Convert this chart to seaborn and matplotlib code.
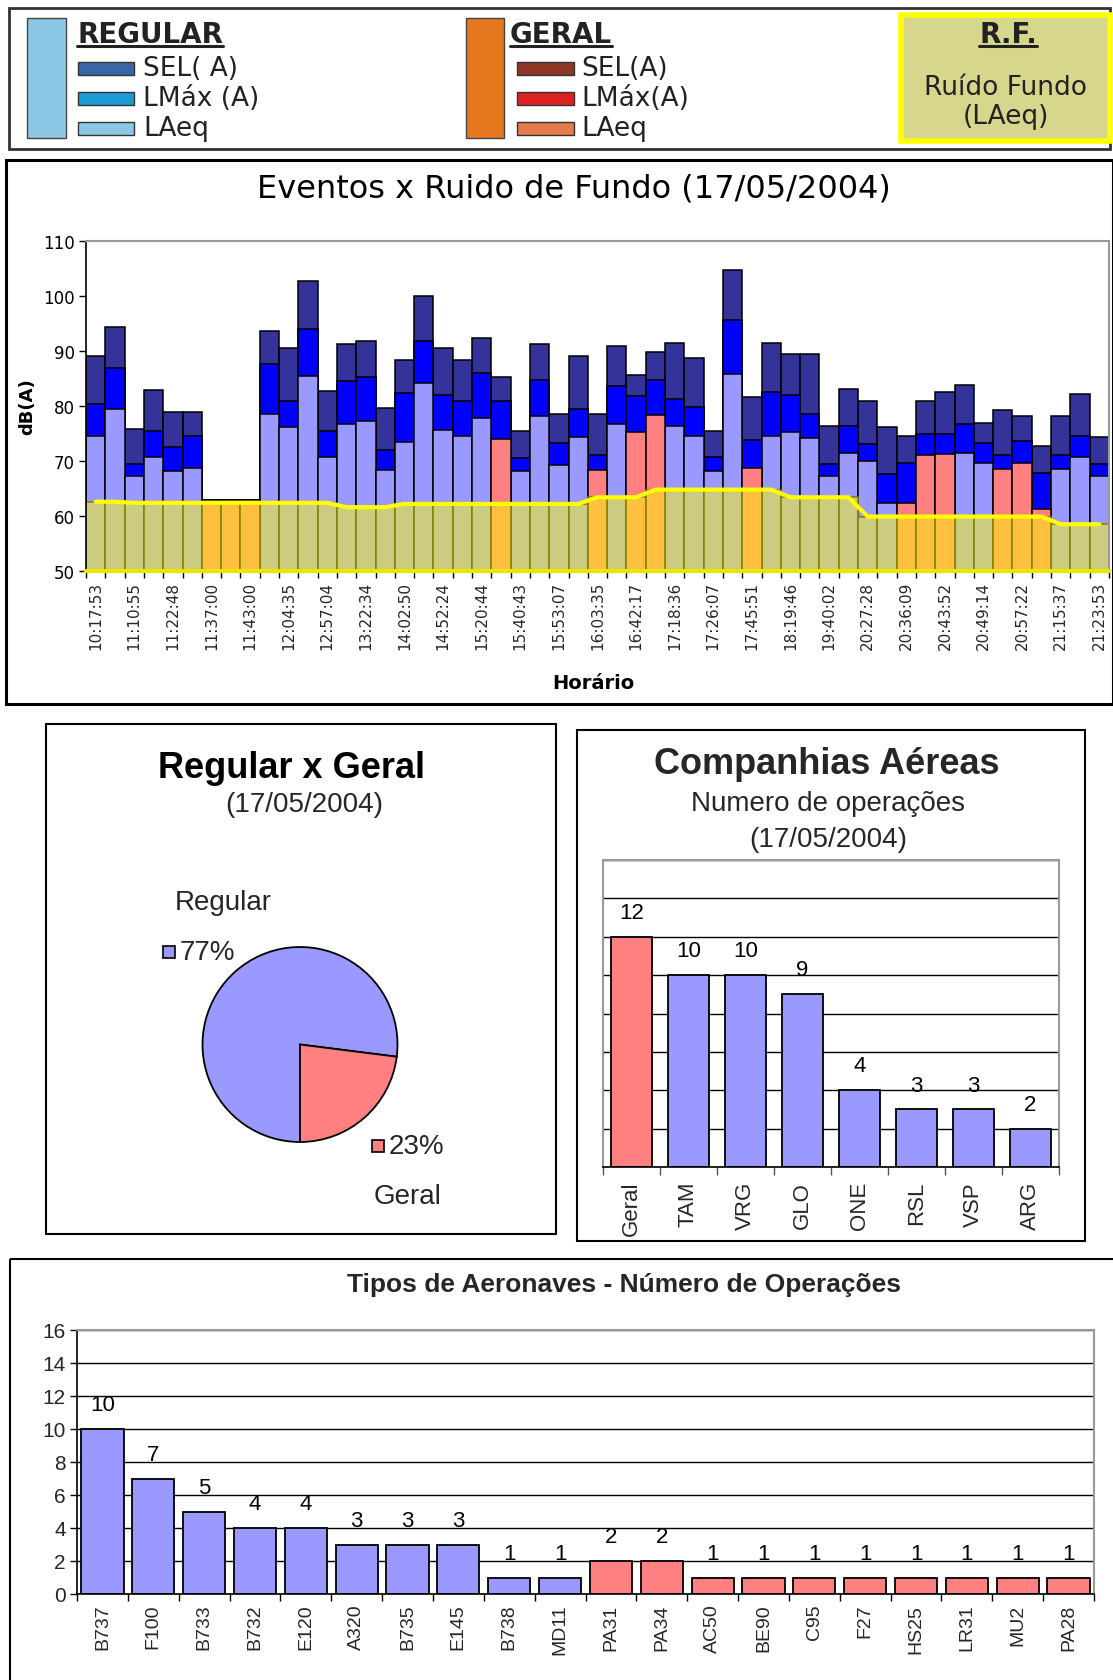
import numpy as np
import pandas as pd
import matplotlib
matplotlib.use("Agg")
import matplotlib.pyplot as plt
import seaborn as sns
from matplotlib.patches import Rectangle

sns.set_theme(style="white")
plt.rcParams["font.family"] = ["DejaVu Sans"]

# ---------------- data: main chart (events x background noise) ----------------
time_labels = ["10:17:53", "11:10:55", "11:22:48", "11:37:00", "11:43:00", "12:04:35",
               "12:57:04", "13:22:34", "14:02:50", "14:52:24", "15:20:44", "15:40:43",
               "15:53:07", "16:03:35", "16:42:17", "17:18:36", "17:26:07", "17:45:51",
               "18:19:46", "19:40:02", "20:27:28", "20:36:09", "20:43:52", "20:49:14",
               "20:57:22", "21:15:37", "21:23:53"]

sel_db = [89.1, 94.3, 75.8, 83.0, 78.9, 78.9, 62.9, 62.9, 62.9, 93.6,
          90.5, 102.8, 82.7, 91.2, 91.8, 79.6, 88.4, 100.0, 90.6, 88.4,
          92.3, 85.2, 75.5, 91.2, 78.5, 89.1, 78.5, 90.9, 85.7, 89.8,
          91.5, 88.8, 75.5, 104.8, 81.6, 91.5, 89.4, 89.4, 76.4, 83.1,
          81.0, 76.1, 74.6, 81.0, 82.5, 83.9, 77.0, 79.3, 78.2, 72.8,
          78.2, 82.2, 74.3]
lmax_db = [80.3, 86.9, 69.4, 75.4, 72.6, 74.6, 62.9, 62.9, 62.9, 87.7,
           81.0, 94.0, 75.5, 84.5, 85.2, 72.0, 82.4, 91.8, 82.0, 81.0,
           86.0, 81.0, 70.5, 84.8, 73.2, 79.5, 71.1, 83.7, 81.9, 84.8,
           81.2, 79.9, 70.7, 95.7, 73.9, 82.6, 82.0, 78.5, 69.4, 76.3,
           73.1, 67.6, 69.7, 74.9, 75.0, 76.7, 73.2, 71.1, 73.6, 67.9,
           71.1, 74.6, 69.4]
laeq_db = [74.6, 79.5, 67.2, 70.7, 68.2, 68.7, 62.9, 62.9, 62.9, 78.5,
           76.1, 85.5, 70.7, 76.7, 77.2, 68.3, 73.5, 84.1, 75.7, 74.6,
           77.8, 74.0, 68.2, 78.1, 69.3, 74.3, 68.3, 76.7, 75.3, 78.4,
           76.3, 74.6, 68.2, 85.8, 68.7, 74.6, 75.3, 74.2, 67.3, 71.4,
           70.0, 62.3, 62.3, 71.1, 71.3, 71.4, 69.7, 68.6, 69.6, 61.2,
           68.6, 70.7, 67.3]
rf_db = [62.6, 62.6, 62.4, 62.4, 62.4, 62.4, 62.4, 62.4, 62.4, 62.4,
         62.4, 62.4, 62.4, 61.6, 61.6, 61.6, 62.2, 62.2, 62.2, 62.2,
         62.2, 62.2, 62.2, 62.2, 62.2, 62.2, 63.4, 63.4, 63.4, 64.8,
         64.8, 64.8, 64.8, 64.8, 64.8, 64.8, 63.4, 63.4, 63.4, 63.4,
         59.9, 59.9, 59.9, 59.9, 59.9, 59.9, 59.9, 59.9, 59.9, 59.9,
         58.5, 58.5, 58.5]
geral_flag = [0, 0, 0, 0, 0, 0, 1, 1, 1, 0,
              0, 0, 0, 0, 0, 0, 0, 0, 0, 0,
              0, 1, 0, 0, 0, 0, 1, 0, 1, 1,
              0, 0, 0, 0, 1, 0, 0, 0, 0, 0,
              0, 0, 1, 1, 1, 0, 0, 1, 1, 1,
              0, 0, 0]

# ---------------- data: pie ----------------
pie_labels = ["Regular", "Geral"]
pie_values = [77, 23]

# ---------------- data: airlines ----------------
airlines = ["Geral", "TAM", "VRG", "GLO", "ONE", "RSL", "VSP", "ARG"]
airline_ops = [12, 10, 10, 9, 4, 3, 3, 2]

# ---------------- data: aircraft types ----------------
aircraft = ["B737", "F100", "B733", "B732", "E120", "A320", "B735", "E145", "B738", "MD11",
            "PA31", "PA34", "AC50", "BE90", "C95", "F27", "HS25", "LR31", "MU2", "PA28"]
aircraft_ops = [10, 7, 5, 4, 4, 3, 3, 3, 1, 1, 2, 2, 1, 1, 1, 1, 1, 1, 1, 1]
aircraft_geral = [0, 0, 0, 0, 0, 0, 0, 0, 0, 0, 1, 1, 1, 1, 1, 1, 1, 1, 1, 1]

# ---------------- colours ----------------
NAVY = "#333399"
BLUE = "#0000FF"
LAV = "#9999FF"
SALMON = "#FF8080"
KHAKI = "#CCCC80"
GOLD = "#FFC040"
OLIVE = "#808000"

W, H = 1113, 1681
fig = plt.figure(figsize=(W / 100, H / 100), dpi=100)
fig.patch.set_facecolor("white")


def fax(x0, y0, x1, y1, **kw):
    """axes from pixel box (y measured from top)"""
    return fig.add_axes([x0 / W, 1 - y1 / H, (x1 - x0) / W, (y1 - y0) / H], **kw)


# ================= main chart =================
df = pd.DataFrame({
    "pos": np.arange(len(sel_db)),
    "SEL": sel_db, "LMax": lmax_db, "LAeq": laeq_db, "RF": rf_db,
    "tipo": ["Geral" if g else "Regular" for g in geral_flag],
})
ax = fax(86, 242, 1109, 572)
common = dict(data=df, x="pos", native_scale=True, width=1.0, saturation=1,
              linewidth=1.1, ax=ax, err_kws={"linewidth": 0})
sns.barplot(y="SEL", color=NAVY, edgecolor="black", **common)
sns.barplot(y="LMax", color=BLUE, edgecolor="black", **common)
sns.barplot(y="LAeq", hue="tipo", palette={"Regular": LAV, "Geral": SALMON},
            dodge=False, legend=False, edgecolor="black", **common)
sns.barplot(y="RF", hue="tipo", palette={"Regular": KHAKI, "Geral": GOLD},
            dodge=False, legend=False, edgecolor=OLIVE, **common)
sns.lineplot(data=df, x="pos", y="RF", color="#FFFF00", linewidth=3, ax=ax, sort=False)

n = len(sel_db)
ax.set_xlim(-0.5, n - 0.5)
ax.set_ylim(50, 110)
ax.set_yticks(np.arange(50, 111, 10))
ax.tick_params(axis="y", labelsize=12, length=5, width=1, direction="out", left=True,
               colors="black", pad=3)
ax.set_xticks(np.arange(0, n, 2))
ax.set_xticklabels(time_labels, rotation=90, fontsize=11)
ax.set_xticks(np.arange(-0.5, n, 1), minor=True)
ax.tick_params(axis="x", which="major", length=0, pad=7)
ax.tick_params(axis="x", which="minor", length=5, width=1, bottom=True, color="black")
ax.set_xlabel("")
ax.set_ylabel("")
for s in ["top", "right"]:
    ax.spines[s].set_color("#999999")
    ax.spines[s].set_linewidth(1.5)
ax.spines["left"].set_color("black")
ax.spines["left"].set_linewidth(1.2)
ax.spines["bottom"].set_color("#E6E600")
ax.spines["bottom"].set_linewidth(3)
ax.grid(False)

# ================= pie =================
R = 97.5
cx, cy = 300, 1045.5
m = 6
axp = fax(cx - R - m, cy - R - m, cx + R + m, cy + R + m)
axp.pie(pie_values, colors=[LAV, SALMON], startangle=-90, counterclock=False,
        wedgeprops={"edgecolor": "black", "linewidth": 1.3})
lim = (R + m) / R
axp.set_xlim(-lim, lim)
axp.set_ylim(-lim, lim)
axp.set_aspect("equal")
axp.axis("off")

ARIAL = ["Liberation Sans", "DejaVu Sans"]

# ================= airlines =================
df2 = pd.DataFrame({"airline": airlines, "ops": airline_ops})
ax2 = fax(603, 861, 1059, 1168)
sns.barplot(data=df2, x="airline", y="ops", hue="airline",
            palette=[SALMON] + [LAV] * (len(airlines) - 1), legend=False,
            width=0.72, saturation=1, edgecolor="black", linewidth=1.3, ax=ax2)
for c in ax2.containers:
    ax2.bar_label(c, fmt="%d", padding=10, fontsize=16, color="black", fontfamily=ARIAL)
ax2.set_ylim(0, 16)
ax2.set_yticks(np.arange(0, 17, 2))
ax2.set_yticklabels([])
ax2.yaxis.grid(True, color="black", linewidth=1)
ax2.set_axisbelow(True)
ax2.tick_params(axis="y", length=0)
ax2.set_xlim(-0.5, len(airlines) - 0.5)
ax2.set_xticks(range(len(airlines)))
ax2.set_xticklabels(airlines, rotation=90, fontsize=16, fontfamily=ARIAL)
ax2.set_xticks(np.arange(-0.5, len(airlines), 1), minor=True)
ax2.tick_params(axis="x", which="major", length=0, pad=10)
ax2.tick_params(axis="x", which="minor", length=6, width=1, bottom=True, color="#555555")
ax2.set_xlabel("")
ax2.set_ylabel("")
for s in ["top", "right", "left"]:
    ax2.spines[s].set_color("#999999")
    ax2.spines[s].set_linewidth(1.5)
ax2.spines["bottom"].set_color("black")
ax2.spines["bottom"].set_linewidth(1.2)

# ================= aircraft =================
df3 = pd.DataFrame({"tipo": aircraft, "ops": aircraft_ops})
ax3 = fax(77, 1331, 1094, 1595)
sns.barplot(data=df3, x="tipo", y="ops", hue="tipo",
            palette=[SALMON if g else LAV for g in aircraft_geral], legend=False,
            width=0.83, saturation=1, edgecolor="black", linewidth=1.3, ax=ax3)
for c in ax3.containers:
    ax3.bar_label(c, fmt="%d", padding=10, fontsize=16, color="black", fontfamily=ARIAL)
ax3.set_ylim(0, 16)
ax3.set_yticks(np.arange(0, 17, 2))
ax3.tick_params(axis="y", labelsize=15, length=5, width=1, left=True, color="black", pad=3)
for lab in ax3.get_yticklabels():
    lab.set_fontfamily(ARIAL)
ax3.yaxis.grid(True, color="black", linewidth=1)
ax3.set_axisbelow(True)
ax3.set_xlim(-0.5, len(aircraft) - 0.5)
ax3.set_xticks(range(len(aircraft)))
ax3.set_xticklabels(aircraft, rotation=90, fontsize=14, fontfamily=ARIAL)
ax3.set_xticks(np.arange(-0.5, len(aircraft), 1), minor=True)
ax3.tick_params(axis="x", which="major", length=0, pad=7)
ax3.tick_params(axis="x", which="minor", length=5, width=1, bottom=True, color="black")
ax3.set_xlabel("")
ax3.set_ylabel("")
for s in ["top", "right"]:
    ax3.spines[s].set_color("#999999")
    ax3.spines[s].set_linewidth(1.5)
for s in ["left", "bottom"]:
    ax3.spines[s].set_color("black")
    ax3.spines[s].set_linewidth(1.2)

# ================= overlay: frames, legend box, titles =================
ov = fig.add_axes([0, 0, 1, 1], zorder=5)
ov.set_xlim(0, W)
ov.set_ylim(H, 0)
ov.axis("off")
ov.patch.set_alpha(0)

def frame(x0, y0, x1, y1, lw=1.5, ec="black"):
    ov.add_patch(Rectangle((x0, y0), x1 - x0, y1 - y0, fill=False, ec=ec, lw=lw))

frame(8.6, 8.6, 1110, 150, lw=2, ec="#333333")
frame(6.4, 161, 1113, 705, lw=2.2)
frame(46, 725, 556, 1235, lw=1.5)
frame(577, 731, 1085, 1242, lw=1.5)
frame(10, 1260, 1125, 1700, lw=1.5)

TXT = "#222222"

# legend box
ov.add_patch(Rectangle((27, 19), 39, 120, fc="#8CC8E6", ec="#444444", lw=1))
ov.add_patch(Rectangle((466, 19), 38, 120, fc="#E5781E", ec="#444444", lw=1))
ov.add_patch(Rectangle((901, 16), 209, 126, fc="#D6D68C", ec="#FFFF00", lw=4))

reg_cols = ["#3A66A6", "#1B9AD6", "#8CC8E6"]
ger_cols = ["#8E3526", "#DD2222", "#E57A4A"]
reg_txt = ["SEL( A)", "LMáx (A)", "LAeq"]
ger_txt = ["SEL(A)", "LMáx(A)", "LAeq"]
for yy, c1, c2, t1, t2 in zip([69, 99, 129], reg_cols, ger_cols, reg_txt, ger_txt):
    ov.add_patch(Rectangle((78, yy - 6.5), 56, 13, fc=c1, ec="#333333", lw=1))
    ov.add_patch(Rectangle((517, yy - 6.5), 57, 13, fc=c2, ec="#333333", lw=1))
    ov.text(143, yy, t1, fontsize=19, va="center", ha="left", color=TXT)
    ov.text(581, yy, t2, fontsize=19, va="center", ha="left", color=TXT)

heads = [ov.text(77, 35, "REGULAR", fontsize=20, fontweight="bold", va="center", ha="left", color=TXT),
         ov.text(510, 35, "GERAL", fontsize=20, fontweight="bold", va="center", ha="left", color=TXT),
         ov.text(1008, 35, "R.F.", fontsize=20, fontweight="bold", va="center", ha="center", color=TXT)]
ov.text(1006, 88, "Ruído Fundo", fontsize=19, va="center", ha="center", color=TXT)
ov.text(1006, 117, "(LAeq)", fontsize=19, va="center", ha="center", color=TXT)

# main chart titles
ov.text(574, 189, "Eventos x Ruido de Fundo (17/05/2004)", fontsize=23, va="center",
        ha="center", color="black")
ov.text(27, 407, "dB(A)", fontsize=13, fontweight="bold", rotation=90, va="center",
        ha="center", color="black")
ov.text(593, 684, "Horário", fontsize=14, fontweight="bold", va="center", ha="center",
        color="black")

# pie titles & labels
ov.text(291, 769, "Regular x Geral", fontsize=26, fontweight="bold", va="center",
        ha="center", family=ARIAL, color="black")
ov.text(304, 805, "(17/05/2004)", fontsize=20, va="center", ha="center", family=ARIAL)
pie_pos = [((223, 903), (163, 953)), ((408, 1197), (372, 1147))]
for (lp, kp), lab, val, col in zip(pie_pos, pie_labels, pie_values, [LAV, SALMON]):
    ov.text(lp[0], lp[1], lab, fontsize=20, va="center", ha="center", family=ARIAL)
    ov.add_patch(Rectangle((kp[0], kp[1] - 6), 12, 12, fc=col, ec="black", lw=1.2))
    ov.text(kp[0] + 17, kp[1], f"{val}%", fontsize=20, va="center", ha="left", family=ARIAL)

# airline titles
ov.text(827, 765, "Companhias Aéreas", fontsize=26, fontweight="bold", va="center",
        ha="center", family=ARIAL)
ov.text(828, 804, "Numero de operações", fontsize=20, va="center", ha="center", family=ARIAL)
ov.text(828, 840, "(17/05/2004)", fontsize=20, va="center", ha="center", family=ARIAL)

# aircraft title
ov.text(624, 1285, "Tipos de Aeronaves - Número de Operações", fontsize=19,
        fontweight="bold", va="center", ha="center", family=ARIAL)

# underline the legend headings
fig.canvas.draw()
inv = ov.transData.inverted()
for t in heads:
    bb = t.get_window_extent()
    (x0, y0), (x1, y1) = inv.transform([[bb.x0, bb.y0], [bb.x1, bb.y1]])
    ov.plot([x0, x1], [y0 - 2, y0 - 2], color=TXT, lw=2.2)

fig.savefig("out.png", dpi=100)
